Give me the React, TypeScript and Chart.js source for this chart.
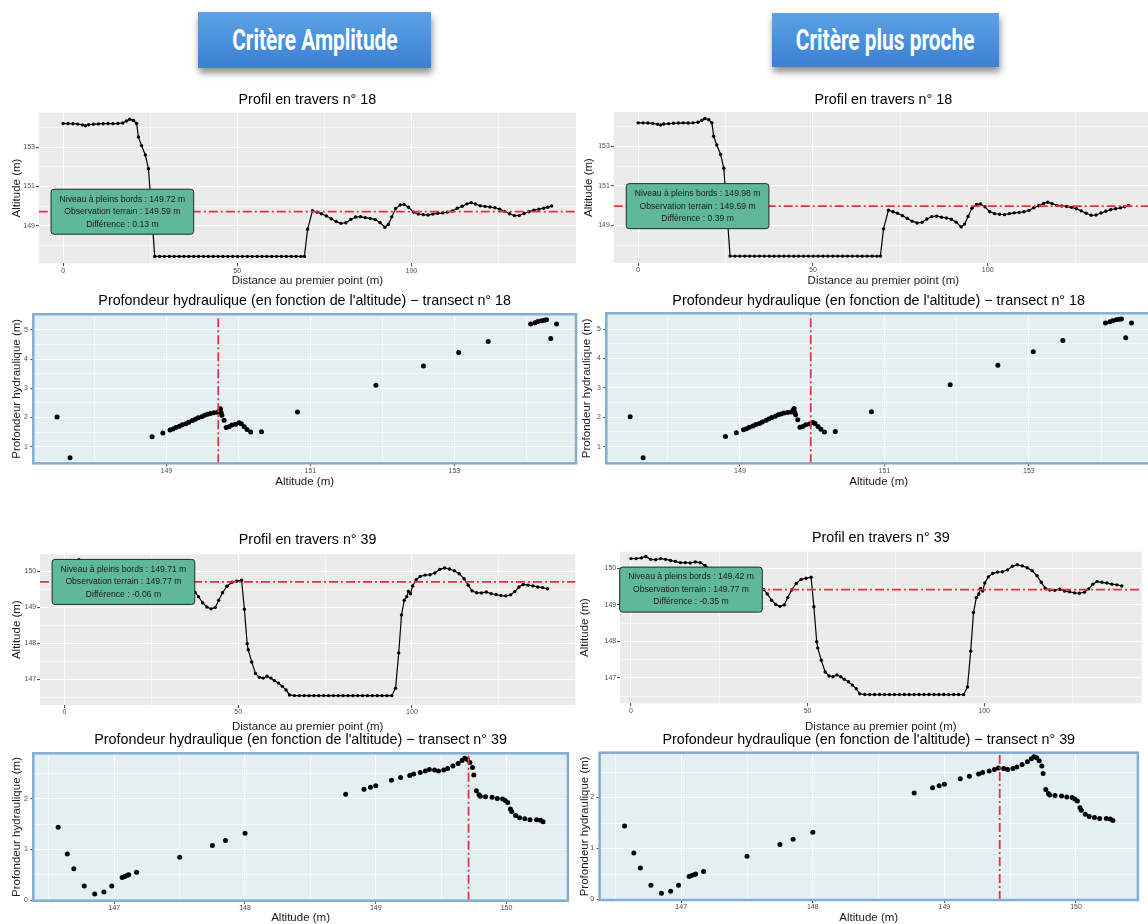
import React, { useEffect, useRef } from 'react';
import { Chart, registerables } from 'chart.js';

Chart.register(...registerables);

const FONT = '"Liberation Sans", Arial, Helvetica, sans-serif';
Chart.defaults.font.family = FONT;

// ---------------- DATA ----------------
const transects = [18, 39];
const criteria = ['Critère Amplitude', 'Critère plus proche'];
// bankfull level per criterion, per transect (n°18, n°39)
const levelAmplitude = [149.72, 149.71];
const levelProche = [149.98, 149.42];
const observation = [149.59, 149.77];

// Profil en travers n°18 : [distance (m), altitude (m)]
const profile18: [number, number][] = [
  [0, 154.2], [1.4, 154.2], [2.8, 154.19], [4.2, 154.17], [5.6, 154.13], [6.4, 154.09], [7.3, 154.14],
  [8.7, 154.16], [10.1, 154.18], [11.5, 154.19], [12.9, 154.2], [14.3, 154.19], [15.7, 154.2], [17.1, 154.23],
  [18.2, 154.33], [19.1, 154.42], [20.2, 154.36], [21.1, 154.2], [21.6, 153.52], [22.5, 153.08], [23.6, 152.6],
  [24.5, 151.9], [26.3, 147.45], [27.7, 147.45], [29.1, 147.45], [30.5, 147.45], [31.9, 147.45], [33.3, 147.45],
  [34.7, 147.45], [36.1, 147.45], [37.5, 147.45], [38.9, 147.45], [40.3, 147.45], [41.7, 147.45], [43.1, 147.45],
  [44.5, 147.45], [45.9, 147.45], [47.3, 147.45], [48.7, 147.45], [50.1, 147.45], [51.5, 147.45], [52.9, 147.45],
  [54.3, 147.45], [55.7, 147.45], [57.1, 147.45], [58.5, 147.45], [59.9, 147.45], [61.3, 147.45], [62.7, 147.45],
  [64.1, 147.45], [65.5, 147.45], [66.9, 147.45], [68.3, 147.45], [69.3, 147.45], [70.2, 148.83], [71.6, 149.77],
  [72.9, 149.7], [74.2, 149.62], [75.6, 149.5], [77, 149.36], [78.4, 149.22], [79.8, 149.13], [81.2, 149.16],
  [82.6, 149.33], [84, 149.45], [85.4, 149.47], [86.8, 149.42], [88.2, 149.38], [89.6, 149.32], [91, 149.17],
  [92.4, 148.93], [93.4, 149.07], [94.4, 149.46], [95.5, 149.88], [96.8, 150.06], [97.9, 150.09], [99.2, 149.95],
  [100.6, 149.7], [102, 149.6], [103.4, 149.57], [104.8, 149.55], [106.2, 149.6], [107.6, 149.64], [109, 149.66],
  [110.4, 149.7], [111.8, 149.76], [113.2, 149.9], [114.6, 150.0], [116, 150.12], [117.2, 150.18], [118.4, 150.11],
  [119.8, 150.02], [121.2, 149.99], [122.6, 149.96], [124, 149.92], [125.4, 149.85], [126.8, 149.74], [128.2, 149.62],
  [129.6, 149.52], [131, 149.53], [132.4, 149.63], [133.8, 149.72], [135.2, 149.8], [136.6, 149.85], [138, 149.9],
  [139.2, 149.95], [140.3, 150.01],
];

// Profondeur hydraulique n°18 : [altitude (m), profondeur (m)]
const depth18: [number, number][] = [
  [147.48, 2.02], [147.66, 0.62], [148.8, 1.34], [148.95, 1.47], [149.05, 1.57], [149.09, 1.61], [149.13, 1.66],
  [149.18, 1.7], [149.22, 1.75], [149.27, 1.79], [149.31, 1.84], [149.36, 1.9], [149.4, 1.94], [149.44, 1.99],
  [149.49, 2.03], [149.53, 2.08], [149.57, 2.11], [149.61, 2.14], [149.66, 2.16], [149.71, 2.18], [149.74, 2.25],
  [149.75, 2.3], [149.76, 2.16], [149.77, 2.08], [149.8, 1.91], [149.83, 1.66], [149.87, 1.68], [149.91, 1.74],
  [149.96, 1.77], [150.01, 1.82], [150.04, 1.79], [150.08, 1.68], [150.12, 1.59], [150.17, 1.5], [150.32, 1.51],
  [150.82, 2.19], [151.91, 3.11], [152.57, 3.77], [153.06, 4.23], [153.47, 4.61], [154.06, 5.21], [154.12, 5.25],
  [154.16, 5.29], [154.21, 5.32], [154.25, 5.34], [154.28, 5.35], [154.42, 5.21], [154.34, 4.71],
];

// Profil en travers n°39 : [distance (m), altitude (m)]
const profile39: [number, number][] = [
  [0, 150.27], [1.5, 150.27], [3, 150.29], [4.2, 150.33], [5.6, 150.25], [7, 150.24], [8.4, 150.27], [9.8, 150.25],
  [11.2, 150.22], [12.6, 150.19], [14, 150.16], [15.4, 150.16], [16.8, 150.15], [18.2, 150.18], [19.6, 150.16],
  [21, 150.08], [22.4, 150.0], [23.8, 149.95], [25.2, 149.9], [26.6, 149.88], [28, 149.85], [29.4, 149.82],
  [30.8, 149.8], [32.2, 149.77], [33.6, 149.72], [35, 149.65], [36.4, 149.55], [37.6, 149.42], [38.6, 149.3],
  [39.8, 149.13], [41, 149.01], [42.2, 148.96], [43.4, 149.0], [44.4, 149.2], [45.5, 149.41], [46.8, 149.59],
  [48.2, 149.7], [49.6, 149.73], [51, 149.76], [51.8, 148.95], [52.6, 147.99], [52.9, 147.82], [53.9, 147.48],
  [55, 147.16], [56.1, 147.05], [57.2, 147.03], [58.3, 147.08], [59.4, 147.03], [60.4, 146.96], [61.6, 146.89],
  [62.7, 146.8], [63.8, 146.7], [64.8, 146.56], [66.2, 146.54], [67.6, 146.54], [69, 146.54], [70.4, 146.54],
  [71.8, 146.54], [73.2, 146.54], [74.6, 146.54], [76, 146.54], [77.4, 146.54], [78.8, 146.54], [80.2, 146.54],
  [81.6, 146.54], [83, 146.54], [84.4, 146.54], [85.8, 146.54], [87.2, 146.54], [88.6, 146.54], [90, 146.54],
  [91.4, 146.54], [92.8, 146.54], [94.2, 146.54], [95.3, 146.75], [96.2, 147.73], [97, 148.79], [97.8, 149.2],
  [98.5, 149.3], [99, 149.45], [99.6, 149.38], [100.2, 149.6], [101.2, 149.77], [102.4, 149.86], [103.8, 149.9],
  [105.2, 149.91], [106.6, 149.96], [108, 150.06], [109.4, 150.1], [110.8, 150.07], [112.2, 150.02], [113.6, 149.94],
  [115, 149.8], [116.2, 149.62], [117.3, 149.46], [118.6, 149.41], [120, 149.4], [121.4, 149.43], [122.8, 149.38],
  [124.2, 149.36], [125.6, 149.33], [127, 149.32], [128.4, 149.35], [129.6, 149.44], [130.8, 149.57], [132, 149.64],
  [133.4, 149.62], [134.8, 149.6], [136.2, 149.57], [137.6, 149.55], [139, 149.52],
];

// Profondeur hydraulique n°39 : [altitude (m), profondeur (m)]
const depth39: [number, number][] = [
  [146.57, 1.44], [146.64, 0.91], [146.69, 0.62], [146.77, 0.28], [146.85, 0.12], [146.92, 0.16], [146.98, 0.28],
  [147.06, 0.45], [147.08, 0.47], [147.1, 0.49], [147.11, 0.5], [147.17, 0.55], [147.5, 0.85], [147.75, 1.08],
  [147.85, 1.18], [148.0, 1.32], [148.77, 2.09], [148.91, 2.19], [148.96, 2.23], [149.0, 2.26], [149.12, 2.37],
  [149.19, 2.42], [149.26, 2.46], [149.29, 2.49], [149.34, 2.52], [149.38, 2.55], [149.41, 2.58], [149.45, 2.57],
  [149.48, 2.55], [149.52, 2.57], [149.55, 2.6], [149.59, 2.65], [149.63, 2.7], [149.66, 2.76], [149.68, 2.8],
  [149.7, 2.78], [149.72, 2.72], [149.74, 2.62], [149.75, 2.47], [149.77, 2.16], [149.79, 2.08], [149.8, 2.05],
  [149.84, 2.04], [149.89, 2.03], [149.93, 2.01], [149.97, 2.0], [149.99, 1.97], [150.01, 1.93], [150.03, 1.8],
  [150.04, 1.75], [150.07, 1.67], [150.1, 1.63], [150.14, 1.61], [150.18, 1.59], [150.23, 1.59], [150.26, 1.58],
  [150.28, 1.55],
];

// Tick breaks (major labelled, minor grid only)
const p18XMajor = [0, 50, 100];
const p18XMinor = [25, 75, 125];
const p18YMajor = [149, 151, 153];
const p18YMinor = [148, 150, 152, 154];
const d18XMajor = [149, 151, 153];
const d18XMinor = [148, 150, 152, 154];
const d18YMajor = [1, 2, 3, 4, 5];
const d18YMinor = [0.5, 1.5, 2.5, 3.5, 4.5, 5.5];
const p39XMajor = [0, 50, 100];
const p39XMinor = [25, 75, 125];
const p39YMajor = [147, 148, 149, 150];
const p39YMinor = [146.5, 147.5, 148.5, 149.5];
const d39XMajor = [147, 148, 149, 150];
const d39XMinor = [146.5, 147.5, 148.5, 149.5];
const d39YMajor = [0, 1, 2];
const d39YMinor = [0.5, 1.5, 2.5];

// ---------------- STYLE / LAYOUT ----------------
const TITLE_SIZE = 14.3;
const AXIS_SIZE = 11.5;
const TICK_SIZE = 7;
const RED = '#e5323c';
const LABEL_X = 17;

type Area = { l: number; t: number; r: number; b: number };
type Spec = {
  id: string;
  kind: 'profile' | 'depth';
  canvasLeft: number;
  canvasRight: number;
  area: Area;
  titleY: number;
  yTitleX: number;
  xTitleY: number;
  xRange: [number, number];
  yRange: [number, number];
  title: string;
  xTitle: string;
  yTitle: string;
  data: [number, number][];
  xMajor: number[];
  xMinor: number[];
  yMajor: number[];
  yMinor: number[];
  level: number;
  obs: number;
};

const profTitle = (t: number) => `Profil en travers n° ${t}`;
const depthTitle = (t: number) => `Profondeur hydraulique (en fonction de l'altitude) − transect n° ${t}`;

const specs: Spec[] = [
  {
    id: 'A', kind: 'profile', canvasLeft: 0, canvasRight: 580,
    area: { l: 38.8, t: 112.7, r: 577, b: 263.3 }, titleY: 100, yTitleX: 16.6, xTitleY: 281,
    xRange: [-7, 147.3], yRange: [147.1, 154.75],
    title: profTitle(transects[0]), xTitle: 'Distance au premier point (m)', yTitle: 'Altitude (m)',
    data: profile18, xMajor: p18XMajor, xMinor: p18XMinor, yMajor: p18YMajor, yMinor: p18YMinor,
    level: levelAmplitude[0], obs: observation[0],
  },
  {
    id: 'B', kind: 'profile', canvasLeft: 576, canvasRight: 1160,
    area: { l: 613.7, t: 112, r: 1153, b: 263 }, titleY: 100, yTitleX: 588.5, xTitleY: 281,
    xRange: [-7, 147.3], yRange: [147.1, 154.75],
    title: profTitle(transects[0]), xTitle: 'Distance au premier point (m)', yTitle: 'Altitude (m)',
    data: profile18, xMajor: p18XMajor, xMinor: p18XMinor, yMajor: p18YMajor, yMinor: p18YMinor,
    level: levelProche[0], obs: observation[0],
  },
  {
    id: 'C', kind: 'depth', canvasLeft: 0, canvasRight: 580,
    area: { l: 33.3, t: 314.3, r: 578, b: 463.3 }, titleY: 301.5, yTitleX: 16.6, xTitleY: 481.7,
    xRange: [147.15, 154.69], yRange: [0.43, 5.54],
    title: depthTitle(transects[0]), xTitle: 'Altitude (m)', yTitle: 'Profondeur hydraulique (m)',
    data: depth18, xMajor: d18XMajor, xMinor: d18XMinor, yMajor: d18YMajor, yMinor: d18YMinor,
    level: levelAmplitude[0], obs: observation[0],
  },
  {
    id: 'D', kind: 'depth', canvasLeft: 576, canvasRight: 1160,
    area: { l: 606.3, t: 313.3, r: 1151, b: 463.3 }, titleY: 301.5, yTitleX: 586.6, xTitleY: 481.7,
    xRange: [147.15, 154.69], yRange: [0.43, 5.54],
    title: depthTitle(transects[0]), xTitle: 'Altitude (m)', yTitle: 'Profondeur hydraulique (m)',
    data: depth18, xMajor: d18XMajor, xMinor: d18XMinor, yMajor: d18YMajor, yMinor: d18YMinor,
    level: levelProche[0], obs: observation[0],
  },
  {
    id: 'E', kind: 'profile', canvasLeft: 0, canvasRight: 580,
    area: { l: 40, t: 554.3, r: 575.3, b: 705 }, titleY: 540, yTitleX: 16.6, xTitleY: 727,
    xRange: [-7, 147], yRange: [146.28, 150.48],
    title: profTitle(transects[1]), xTitle: 'Distance au premier point (m)', yTitle: 'Altitude (m)',
    data: profile39, xMajor: p39XMajor, xMinor: p39XMinor, yMajor: p39YMajor, yMinor: p39YMinor,
    level: levelAmplitude[1], obs: observation[1],
  },
  {
    id: 'F', kind: 'profile', canvasLeft: 576, canvasRight: 1150,
    area: { l: 620, t: 551.7, r: 1141.6, b: 703.3 }, titleY: 538.3, yTitleX: 584.8, xTitleY: 727.3,
    xRange: [-3.1, 144.6], yRange: [146.3, 150.46],
    title: profTitle(transects[1]), xTitle: 'Distance au premier point (m)', yTitle: 'Altitude (m)',
    data: profile39, xMajor: p39XMajor, xMinor: p39XMinor, yMajor: p39YMajor, yMinor: p39YMinor,
    level: levelProche[1], obs: observation[1],
  },
  {
    id: 'G', kind: 'depth', canvasLeft: 0, canvasRight: 575,
    area: { l: 33.3, t: 753.3, r: 567.9, b: 900.7 }, titleY: 740, yTitleX: 16.6, xTitleY: 918.3,
    xRange: [146.38, 150.47], yRange: [-0.01, 2.9],
    title: depthTitle(transects[1]), xTitle: 'Altitude (m)', yTitle: 'Profondeur hydraulique (m)',
    data: depth39, xMajor: d39XMajor, xMinor: d39XMinor, yMajor: d39YMajor, yMinor: d39YMinor,
    level: levelAmplitude[1], obs: observation[1],
  },
  {
    id: 'H', kind: 'depth', canvasLeft: 576, canvasRight: 1148,
    area: { l: 599.6, t: 752.7, r: 1137.9, b: 900 }, titleY: 740, yTitleX: 584.8, xTitleY: 918.3,
    xRange: [146.38, 150.47], yRange: [-0.01, 2.88],
    title: depthTitle(transects[1]), xTitle: 'Altitude (m)', yTitle: 'Profondeur hydraulique (m)',
    data: depth39, xMajor: d39XMajor, xMinor: d39XMinor, yMajor: d39YMajor, yMinor: d39YMinor,
    level: levelProche[1], obs: observation[1],
  },
];

type Geo = { top: number; width: number; height: number };

function geometry(s: Spec): Geo {
  const titleLH = TITLE_SIZE * 1.2;
  const axisLH = AXIS_SIZE * 1.2;
  const top = Math.floor(s.titleY - titleLH / 2 - 2);
  const bottom = Math.ceil(s.xTitleY + axisLH / 2 + 1);
  return { top, width: s.canvasRight - s.canvasLeft, height: bottom - top };
}

function makeAxis(
  major: number[], minor: number[], range: [number, number], title: string,
  horizontal: boolean, size: number, titlePad: number, tl: number, pad: number,
) {
  const all = [...major, ...minor].filter((v) => v >= range[0] && v <= range[1]).sort((a, b) => a - b);
  const isMajor = (v: any) => major.includes(v);
  return {
    type: 'linear',
    min: range[0],
    max: range[1],
    afterBuildTicks: (axis: any) => {
      axis.ticks = all.map((v) => ({ value: v }));
    },
    afterFit: (axis: any) => {
      if (horizontal) {
        axis.height = size;
        axis.paddingLeft = 0;
        axis.paddingRight = 0;
      } else {
        axis.width = size;
        axis.paddingTop = 0;
        axis.paddingBottom = 0;
      }
    },
    border: { display: false },
    grid: {
      color: '#ffffff',
      lineWidth: (ctx: any) => (ctx.tick && isMajor(ctx.tick.value) ? 1.1 : 0.55),
      tickColor: (ctx: any) => (ctx.tick && isMajor(ctx.tick.value) ? '#555555' : 'rgba(0,0,0,0)'),
      tickLength: tl,
      drawTicks: true,
    },
    ticks: {
      autoSkip: false,
      maxRotation: 0,
      padding: pad,
      color: '#4d4d4d',
      font: { size: TICK_SIZE, family: FONT },
      callback: (v: any) => (isMajor(v) ? String(v) : ''),
    },
    title: {
      display: true,
      text: title,
      color: '#1a1a1a',
      font: { size: AXIS_SIZE, family: FONT },
      padding: horizontal ? { top: 0, bottom: titlePad } : { top: titlePad, bottom: 0 },
    },
  };
}

function buildConfig(s: Spec, g: Geo): any {
  const isProfile = s.kind === 'profile';
  const titleLH = TITLE_SIZE * 1.2;
  const axisLH = AXIS_SIZE * 1.2;
  const canvasBottom = g.top + g.height;
  const titlePadTop = s.titleY - g.top - titleLH / 2;
  const titlePadBottom = s.area.t - g.top - titleLH - titlePadTop;
  const yAxisWidth = s.area.l - s.canvasLeft;
  const xAxisHeight = canvasBottom - s.area.b;
  const rightPad = s.canvasRight - s.area.r;
  const yTitlePad = s.yTitleX - s.canvasLeft - axisLH / 2;
  const xTitlePad = canvasBottom - s.xTitleY - axisLH / 2;

  const points = s.data.map(([x, y]) => ({ x, y }));
  const levelLine = isProfile
    ? [{ x: s.xRange[0], y: s.level }, { x: s.xRange[1], y: s.level }]
    : [{ x: s.level, y: s.yRange[0] }, { x: s.level, y: s.yRange[1] }];

  const diff = s.level - s.obs;
  const labelLines = [
    `Niveau à pleins bords : ${s.level.toFixed(2)} m`,
    `Observation terrain : ${s.obs.toFixed(2)} m`,
    `Différence : ${diff.toFixed(2)} m`,
  ];

  const panelPlugin = {
    id: 'panel' + s.id,
    beforeDraw(chart: any) {
      const { ctx, chartArea: a } = chart;
      ctx.save();
      ctx.fillStyle = isProfile ? '#ebebeb' : '#e4eff3';
      ctx.fillRect(a.left, a.top, a.right - a.left, a.bottom - a.top);
      ctx.restore();
    },
    afterDatasetsDraw(chart: any) {
      const { ctx, chartArea: a } = chart;
      ctx.save();
      if (!isProfile) {
        ctx.strokeStyle = '#84acd0';
        ctx.lineWidth = 2.5;
        ctx.strokeRect(a.left, a.top, a.right - a.left, a.bottom - a.top);
      } else {
        const cx = chart.scales.x.getPixelForValue(LABEL_X);
        const cy = chart.scales.y.getPixelForValue(s.level);
        ctx.font = `8.6px ${FONT}`;
        const lh = 12.5;
        const w = Math.max(...labelLines.map((t) => ctx.measureText(t).width)) + 17;
        const h = lh * 3 + 7.5;
        ctx.beginPath();
        ctx.roundRect(cx - w / 2, cy - h / 2, w, h, 3);
        ctx.fillStyle = '#5fb89a';
        ctx.fill();
        ctx.strokeStyle = '#1d2b27';
        ctx.lineWidth = 1;
        ctx.stroke();
        ctx.fillStyle = '#1a1a1a';
        ctx.textAlign = 'center';
        ctx.textBaseline = 'middle';
        labelLines.forEach((t, i) => ctx.fillText(t, cx, cy + (i - 1) * lh));
      }
      ctx.restore();
    },
  };

  const dataDataset = isProfile
    ? {
        data: points,
        showLine: true,
        borderColor: '#000000',
        borderWidth: 1.2,
        pointRadius: 1.7,
        pointBackgroundColor: '#000000',
        pointBorderWidth: 0,
      }
    : {
        data: points,
        showLine: false,
        pointRadius: 2.5,
        pointBackgroundColor: '#000000',
        pointBorderWidth: 0,
      };

  return {
    type: 'scatter',
    data: {
      datasets: [
        {
          data: levelLine,
          showLine: true,
          borderColor: RED,
          borderWidth: 1.8,
          borderDash: [9, 3, 2, 3],
          pointRadius: 0,
        },
        dataDataset,
      ],
    },
    plugins: [panelPlugin],
    options: {
      responsive: false,
      animation: false,
      devicePixelRatio: 1,
      events: [],
      layout: { padding: { left: 0, top: 0, right: rightPad, bottom: 0 } },
      plugins: {
        legend: { display: false },
        tooltip: { enabled: false },
        title: {
          display: true,
          text: s.title,
          fullSize: false,
          color: '#000000',
          font: { size: TITLE_SIZE, family: FONT, weight: 'normal' },
          padding: { top: titlePadTop, bottom: titlePadBottom },
        },
      },
      scales: {
        x: makeAxis(s.xMajor, s.xMinor, s.xRange, s.xTitle, true, xAxisHeight, xTitlePad, 3, 0.3),
        y: makeAxis(s.yMajor, s.yMinor, s.yRange, s.yTitle, false, yAxisWidth, yTitlePad, 3, isProfile ? 0.8 : 2.5),
      },
    },
  };
}

function Panel({ spec }: { spec: Spec }) {
  const ref = useRef<HTMLCanvasElement | null>(null);
  const g = geometry(spec);
  useEffect(() => {
    if (!ref.current) return;
    const chart = new Chart(ref.current, buildConfig(spec, g));
    return () => chart.destroy();
  }, []);
  return (
    <canvas
      ref={ref}
      width={g.width}
      height={g.height}
      style={{ position: 'absolute', left: spec.canvasLeft, top: g.top, width: g.width, height: g.height }}
    />
  );
}

function HeaderButton({ left, top, width, height, text }: { left: number; top: number; width: number; height: number; text: string }) {
  return (
    <div
      style={{
        position: 'absolute', left, top, width, height,
        background: 'linear-gradient(180deg, #5ca2e5 0%, #4a91dc 50%, #3b80d1 100%)',
        boxShadow: '1px 5px 7px rgba(0,0,0,0.45)',
        display: 'flex', alignItems: 'center', justifyContent: 'center',
      }}
    >
      <span
        style={{
          color: '#ffffff', fontFamily: 'Roboto, "DejaVu Sans", sans-serif', fontWeight: 700, fontSize: 29,
          transform: 'scaleX(0.72)', whiteSpace: 'nowrap', display: 'inline-block',
        }}
      >
        {text}
      </span>
    </div>
  );
}

export default function App() {
  return (
    <div style={{ position: 'absolute', left: 0, top: 0, width: 1148, height: 924, overflow: 'hidden', background: '#ffffff' }}>
      <HeaderButton left={198} top={12} width={233} height={56} text={criteria[0]} />
      <HeaderButton left={772} top={13} width={227} height={54} text={criteria[1]} />
      {specs.map((s) => (
        <Panel key={s.id} spec={s} />
      ))}
    </div>
  );
}
